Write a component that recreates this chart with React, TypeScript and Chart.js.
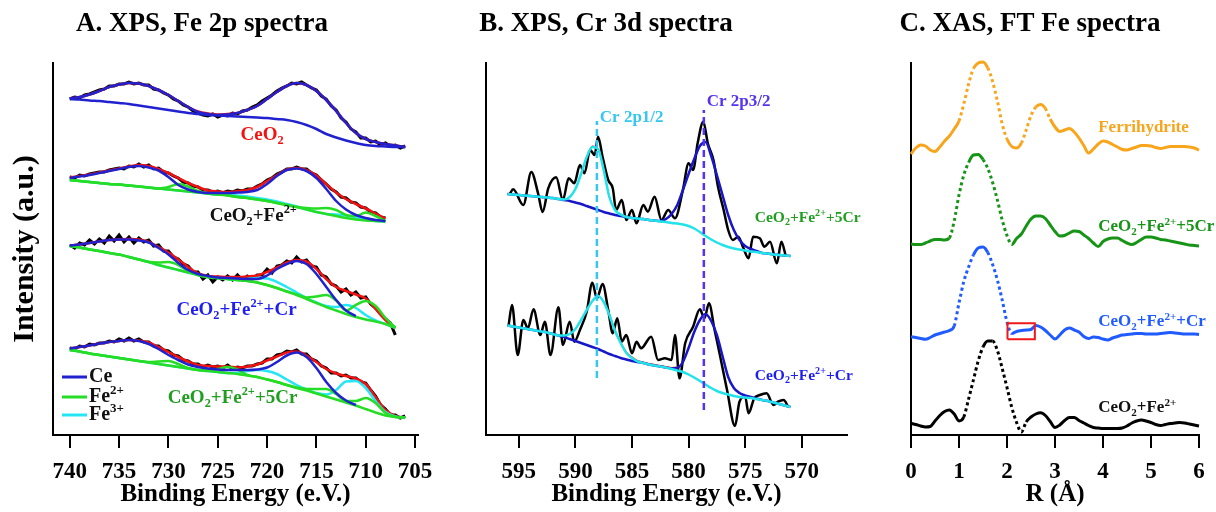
import React, { useEffect, useRef } from 'react';
import { Chart, registerables } from 'chart.js';

Chart.register(...registerables);

const W = 1216;
const H = 512;
const AXIS_BOTTOM = 435;
const AXIS_TOP = 63;
const Y_MAX = 372;
const TITLE_Y = 24;
const SERIF = "'Liberation Serif', 'Times New Roman', serif";

// ---------------- Panel A: XPS Fe 2p ----------------
const energyA = [740, 739, 738, 737, 736, 735, 734, 733, 732, 731, 730, 729, 728, 727, 726, 725, 724, 723, 722, 721, 720, 719, 718, 717, 716, 715, 714, 713, 712, 711, 710, 709, 708, 707, 706];
const rawEnergyA = [740, 739.5, 739, 738.5, 738, 737.5, 737, 736.5, 736, 735.5, 735, 734.5, 734, 733.5, 733, 732.5, 732, 731.5, 731, 730.5, 730, 729.5, 729, 728.5, 728, 727.5, 727, 726.5, 726, 725.5, 725, 724.5, 724, 723.5, 723, 722.5, 722, 721.5, 721, 720.5, 720, 719.5, 719, 718.5, 718, 717.5, 717, 716.5, 716, 715.5, 715, 714.5, 714, 713.5, 713, 712.5, 712, 711.5, 711, 710.5, 710, 709.5, 709, 708.5, 708, 707.5, 707, 706.5, 706];

// CeO2
const rawA1 = [336, 338, 337, 340, 341, 343, 345, 346, 349, 349, 351, 351, 353, 351, 352, 350, 350, 346, 345, 342, 340, 336, 334, 330, 328, 324, 322, 320, 319, 321, 318, 320, 319, 322, 321, 324, 325, 328, 330, 334, 337, 340, 344, 347, 349, 352, 351, 353, 350, 347, 345, 339, 336, 329, 325, 317, 313, 306, 303, 297, 297, 293, 294, 290, 292, 289, 290, 287, 289];
const envA1 = [336.5, 338, 340.5, 344, 348, 350.5, 352, 351.5, 349, 345, 340, 334, 328, 323.5, 321.5, 320.5, 321, 322, 325, 329, 336, 343, 349, 352, 350, 344, 335, 324, 312, 302, 296, 293, 291, 289.5, 288];
const ceA1 = [336.5, 338, 340.5, 344, 348, 350.5, 352, 351.5, 349, 345, 340, 334, 328, 323, 321, 320, 320.5, 322, 325, 329, 336, 343, 349, 352, 350, 344, 335, 324, 312, 302, 296, 293, 291, 289.5, 288];
const baseA1 = [336, 335.5, 334.5, 334, 333, 332, 331, 329.5, 328, 326.5, 325, 323.5, 322, 321, 320, 319.5, 319, 318.5, 318, 317.5, 317, 316, 315, 313, 310, 306, 301, 297.5, 294.5, 292, 290, 289, 288.5, 288, 288];

// CeO2 + Fe2+
const rawA2 = [258, 257, 260, 259, 261, 262, 263, 263, 265, 266, 267, 266, 269, 268, 271, 268, 270, 266, 267, 263, 262, 259, 257, 253, 252, 249, 248, 245, 245, 243, 244, 242, 244, 243, 245, 244, 246, 246, 249, 251, 255, 257, 261, 263, 266, 266, 268, 266, 266, 262, 260, 255, 251, 246, 243, 238, 237, 233, 232, 228, 227, 223, 222, 218, 217, null, null, null, null];
const envA2 = [257.5, 259, 260.5, 262.5, 264.5, 266.5, 268.5, 270, 269, 266, 262, 257, 252, 248, 244.5, 243.5, 243, 244, 245, 248, 254, 260, 265.5, 267, 265, 259.5, 251, 242.5, 236, 231, 226.5, 221.5, 216.5, null, null];
const ceA2 = [257, 258.5, 260, 262, 264, 266, 268, 269, 267.5, 264.5, 258, 250, 245.5, 243, 242, 242, 242, 242.5, 243, 245, 251, 259, 265, 266.5, 264, 257, 246, 234, 225.5, 220, 217, 215, 214, null, null];
const baseA2 = [255, 254, 253, 252, 251, 250.5, 249.5, 248.5, 247.5, 246.5, 245.5, 244.5, 243.5, 242.5, 241.5, 240.5, 239.5, 238, 237, 235.5, 234, 232, 230, 228, 225.5, 223, 221, 219, 217, 215.5, 214.5, 214, 213.5, null, null];
const fe2A2 = [255, 254, 253, 252, 251, 250.5, 249.5, 248.5, 247.5, 246.5, 248, 251, 248.5, 244, 241.5, 240.5, 239.5, 238, 237, 235.5, 234, 232, 230, 228, 227, 226.5, 227, 225, 220, 219, 222.5, 219, 214, null, null];
const fe3A2 = [255, 254, 253, 252, 251, 250.5, 249.5, 248.5, 247.5, 246.5, 245.5, 244.5, 243.5, 242.5, 241.5, 240.5, 240.5, 239.5, 238.5, 237, 235.5, 233.5, 231, 228.5, 225.5, 223, 221, 220.5, 219.5, 217.5, 215.5, 214, 213.5, null, null];

// CeO2 + Fe2+ + Cr
const rawA3 = [190, 187, 192, 190, 195, 191, 196, 192, 199, 194, 200, 193, 198, 192, 197, 193, 195, 189, 190, 184, 184, 178, 176, 171, 169, 163, 163, 156, 160, 153, 158, 155, 159, 155, 160, 155, 159, 156, 160, 160, 166, 162, 169, 170, 174, 172, 178, 173, 175, 169, 168, 160, 158, 151, 149, 143, 146, 140, 143, 137, 138, 131, 127, 121, 116, 112, 100, null, null];
const envA3 = [189.5, 190.5, 192, 193.5, 195, 195.5, 196, 195.5, 193, 188, 182.5, 175.5, 168, 161.5, 159, 158.5, 158, 158, 158.5, 159.5, 163, 167.5, 172.5, 175, 173.5, 166, 156, 148, 144, 140.5, 136.5, 126, 115, 106.5, null];
const ceA3 = [189.5, 190.5, 192, 193.5, 195, 195.5, 195.5, 194.5, 192.5, 187, 180.5, 172, 165, 161, 159, 157.5, 157, 156.5, 156, 156, 159.5, 166, 171, 174, 171, 161, 148, 135, 124.5, 119, null, null, null, null, null];
const baseA3 = [189, 187.5, 185.5, 184, 182, 180.5, 178, 175.5, 173, 170, 167.5, 165, 162.5, 160, 158, 157, 156, 155, 154, 152.5, 150, 147, 143.5, 140, 136, 132, 128, 124.5, 121, 118, 115.5, 113.5, 111, 107, null];
const fe2A3 = [189, 187.5, 185.5, 184, 182, 180.5, 178, 175.5, 173, 172.5, 173, 170, 164, 160, 158, 157, 156, 155, 154, 152.5, 150, 147, 143.5, 140.5, 137.5, 138.5, 140, 134.5, 124.5, 130, 134, 129, 117, 107.5, null];
const fe3A3 = [189, 187.5, 185.5, 184, 182, 180.5, 178, 175.5, 173, 170, 167.5, 165, 162.5, 160, 158, 157, 156, 155, 156, 157, 156.5, 153, 148, 142.5, 137, 132.5, 129, 128, 130, 127, 120, 114.5, 111, 107, null];

// CeO2 + Fe2+ + 5Cr
const rawA4 = [87, 86, 89, 88, 91, 90, 92, 92, 94, 93, 96, 94, 97, 94, 96, 93, 93, 89, 89, 85, 84, 80, 79, 75, 74, 71, 71, 68, 70, 68, 69, 67, 70, 66, 68, 67, 69, 69, 71, 72, 76, 76, 80, 81, 84, 83, 85, 81, 81, 76, 74, 69, 67, 62, 62, 59, 60, 57, 57, 53, 52, 45, 39, 30, 26, 20, 20, 17, 19];
const envA4 = [86.5, 88, 89.5, 91.5, 93, 94, 95, 94.5, 92.5, 88, 83, 78, 73.5, 70, 69, 68.5, 68.5, 67.5, 68.5, 70.5, 74.5, 78.5, 82.5, 83.5, 79.5, 73, 66, 61.5, 59, 56.5, 51, 38, 25, 19, 17.5];
const ceA4 = [86.5, 88, 89.5, 91.5, 93, 94, 95, 94, 91, 86, 80, 75, 70.5, 68, 66.5, 65.5, 65, 65, 65, 65.5, 67.5, 73, 79.5, 82.5, 78, 67, 53, 42, 34.5, 30, null, null, null, null, null];
const baseA4 = [85, 83.5, 81.5, 80, 78.5, 77, 75.5, 74, 72.5, 71, 69.5, 68, 66.5, 65, 64, 63, 62, 61, 59.5, 58, 55.5, 53, 50, 47, 44.5, 41.5, 38.5, 35.5, 32.5, 29.5, 26, 22.5, 19.5, 18, 17.5];
const fe2A4 = [85, 83.5, 81.5, 80, 78.5, 77, 75.5, 74, 73, 73.5, 74, 71, 67, 65, 64.5, 66, 68, 65.5, 60, 58, 55.5, 53, 50, 47.5, 46, 46, 46, 41, 34, 34, 37, 32, 22, 18, 17.5];
const fe3A4 = [85, 83.5, 81.5, 80, 78.5, 77, 75.5, 74, 72.5, 71, 69.5, 68, 66.5, 65, 64, 63, 62, 62, 64, 65, 64, 61, 55.5, 50, 45.5, 42, 40.5, 45, 53.5, 54, 47, 34, 23, 18.5, 17.5];

// ---------------- Panel B: XPS Cr 3d ----------------
const energyB = [596, 595.5, 595, 594.5, 594, 593.5, 593, 592.5, 592, 591.5, 591, 590.5, 590, 589.5, 589, 588.5, 588, 587.5, 587, 586.5, 586, 585.5, 585, 584.5, 584, 583.5, 583, 582.5, 582, 581.5, 581, 580.5, 580, 579.5, 579, 578.5, 578, 577.5, 577, 576.5, 576, 575.5, 575, 574.5, 574, 573.5, 573, 572.5, 572, 571.5, 571];

// CeO2 + Fe2+ + 5Cr
const rawEnergyB1 = [595.8, 595.5, 594.6, 593.9, 593.3, 592.9, 592.4, 591.7, 591.1, 590.6, 590.1, 589.6, 589.2, 588.7, 588.3, 588.0, 587.6, 587.1, 586.7, 586.4, 585.9, 585.5, 585.0, 584.6, 584.0, 583.6, 583.0, 582.4, 581.8, 581.2, 580.5, 580.0, 579.6, 579.2, 578.7, 578.3, 577.8, 577.4, 576.9, 576.5, 576.1, 575.6, 575.2, 574.7, 574.3, 573.7, 573.3, 572.8, 572.2, 571.8, 571.4];
const rawB1 = [241, 245.7, 230, 263, 241.7, 223, 246.7, 257.7, 235, 256.7, 251.7, 270, 261.7, 285, 280, 298.3, 278.3, 255, 246.7, 225, 235, 215, 225, 211.7, 230, 223.3, 238.3, 215, 225, 216.7, 245, 271.7, 265, 291.7, 313.3, 291.7, 275, 248.3, 225, 205, 195, 198.3, 188.3, 176.7, 198.3, 196.7, 188.3, 193.3, 171.7, 193.3, 178.3];
const envB1 = [241, 240.5, 240, 239.5, 239, 238.5, 238, 237.5, 237, 236, 235.5, 238, 246, 261, 278, 289, 286, 265, 238, 225, 220.5, 218, 217, 216.5, 216, 215, 214.5, 214, 216, 221, 230, 245, 261, 276, 289, 293, 279, 260, 240, 220, 205, 195, 189, 186, 184, 182, 181.5, 180.5, 180, 179.5, 179];
const p32B1 = [241, 240.5, 240, 239.5, 239, 238.5, 238, 237.5, 237, 236, 235, 234, 232.5, 231, 229, 227, 225, 223, 221.5, 220, 219, 218, 217, 216.5, 216, 215, 214.5, 214, 216, 221, 230, 245, 261, 276, 289, 293, 279, 260, 240, 220, 205, 195, 189, 186, 184, 182, 181.5, 180.5, 180, 179.5, 179];
const p12B1 = [241, 240.5, 240, 239.5, 239, 238.5, 238, 237.5, 237, 236, 235.5, 238, 246, 261, 278, 288, 286, 265, 238, 225, 220.5, 218, 217, 216.5, 216, 215, 214.5, 213.5, 213, 212, 211.5, 210.5, 209, 206.5, 203, 199, 195.5, 192.5, 190, 188, 186.5, 185.5, 184.5, 183.5, 183, 182, 181.5, 180.5, 180, 179.5, 179];

// CeO2 + Fe2+ + Cr
const rawEnergyB2 = [595.9, 595.6, 595.1, 594.6, 594.2, 593.7, 593.1, 592.7, 592.2, 591.5, 591.1, 590.5, 590.1, 589.6, 589.0, 588.5, 588.1, 587.6, 587.1, 586.7, 586.3, 585.9, 585.5, 585.0, 584.6, 584.2, 583.3, 582.7, 582.1, 581.5, 581.2, 580.8, 580.3, 579.6, 579.0, 578.6, 578.2, 577.7, 577.2, 576.6, 575.9, 575.5, 575.0, 574.7, 574.2, 573.7, 573.1, 572.5, 572.1, 571.6, 571.2];
const rawB2 = [110, 130, 80, 115, 106.7, 125.7, 100, 113.3, 80, 127.7, 90, 113.3, 93.3, 105, 123.3, 152.3, 136.7, 151, 125, 101.7, 116.7, 93.3, 100, 81.7, 93.3, 86.7, 98.3, 75, 76.7, 75, 100, 56.7, 91.7, 108.3, 125.7, 116.7, 131.7, 105, 78.3, 45, 9, 33.3, 38.3, 21.7, 36.7, 40, 41.7, 30, 33.3, 35, 28.3];
const envB2 = [109.5, 108.5, 107.5, 106.5, 105.5, 104.5, 103.5, 102.5, 101, 99.5, 99.5, 101, 106, 115, 125, 134, 139, 133.5, 121, 105, 93, 83, 78, 74.5, 73, 71.5, 70.5, 69.5, 68.5, 67.5, 68, 73.5, 87, 103, 115, 121, 114, 100, 79, 58, 47, 42, 39.5, 38, 36.5, 35, 34, 32.5, 31, 29.5, 28];
const p32B2 = [109.5, 108.5, 107.5, 106.5, 105.5, 104.5, 103.5, 102.5, 101, 99.5, 98, 96, 94, 92, 90, 88, 86, 83.5, 81, 79, 77, 75.5, 74, 73, 72, 70.5, 69.5, 68.5, 67.5, 66.5, 67, 73, 87, 103, 115, 121, 114, 100, 79, 58, 47, 42, 39.5, 38, 36.5, 35, 34, 32.5, 31, 29.5, 28];
const p12B2 = [109.5, 108.5, 107.5, 106.5, 105.5, 104.5, 103.5, 102.5, 101, 99.5, 99.5, 101, 106, 115, 125, 134, 139, 133, 120, 104, 92, 82, 77, 73.5, 72, 70.5, 69.5, 68.5, 67.5, 66, 64.5, 63, 60.5, 57.5, 54, 50.5, 47, 44, 42, 40.5, 39, 38, 37.5, 37, 36, 35, 34, 32.5, 31, 29.5, 28];

// reference lines
const cr2p12Energy = 588.1;
const cr2p12Span = [57, 314];
const cr2p32Energy = 578.65;
const cr2p32Span = [25, 325];

// ---------------- Panel C: XAS FT Fe ----------------
const rC = [0, 0.1, 0.2, 0.3, 0.4, 0.5, 0.6, 0.7, 0.8, 0.9, 1, 1.1, 1.2, 1.3, 1.4, 1.5, 1.6, 1.7, 1.8, 1.9, 2, 2.1, 2.2, 2.3, 2.4, 2.5, 2.6, 2.7, 2.8, 2.9, 3, 3.1, 3.2, 3.3, 3.4, 3.5, 3.6, 3.7, 3.8, 3.9, 4, 4.1, 4.2, 4.3, 4.4, 4.5, 4.6, 4.7, 4.8, 4.9, 5, 5.1, 5.2, 5.3, 5.4, 5.5, 5.6, 5.7, 5.8, 5.9, 6];
const ferrihydriteC = [281, 287, 290, 289, 285, 283.5, 288, 294, 299, 306, 314, 331, 351, 366.5, 372, 373, 367, 353.5, 334, 311, 296, 288.5, 287, 292, 305, 319.5, 328, 330.5, 326.5, 316, 308, 303.5, 305, 306.5, 303, 297, 289.5, 282, 286, 291, 294, 293, 290.5, 288, 285.5, 285, 286.5, 288, 289.5, 289.5, 289, 287.5, 286.5, 287.5, 288.5, 288.5, 288.5, 288.5, 288, 287, 285];
const fe5CrC = [191, 190.5, 190.5, 192, 194, 195.5, 195.5, 195, 197, 214, 240, 260, 272.5, 280, 280.5, 275.5, 266.5, 252.5, 235, 215, 199.5, 190.5, 196.5, 201, 209, 216, 219, 219, 216.5, 210, 203.5, 199, 199.5, 202, 204, 203.5, 200, 196.5, 192, 188.5, 193.5, 196, 197, 197, 194.5, 192, 190.5, 192.5, 195.5, 198, 198, 197, 195.5, 195, 194, 193, 192, 191, 190, 189.5, 189];
const feCrC = [98.3, 97.5, 96.5, 95.7, 97.5, 100, 101.5, 103, 104.5, 109, 132, 153.5, 168, 180, 187, 188, 182.5, 170.5, 155, 135, 113, 101.5, 103.5, 104.5, 105, 105.5, 109.5, 108, 104.5, 100, 96, 100, 105, 107, 105, 103, 98.5, 96.5, 98, 97.5, 96, 95, 97, 98.5, 100, 100.5, 101, 101.5, 101.5, 101, 101, 101, 101.5, 102, 102.5, 102, 101.5, 101, 101, 101, 100.5];
const feC = [11.7, 10.5, 9, 8, 8.5, 14, 19.5, 23.5, 25, 21, 14, 18, 36, 55, 74, 88, 94, 94, 84.5, 66.5, 47.5, 27.5, 12.5, 3, 13, 18, 21, 22.3, 19.5, 13.5, 7.5, 10, 14.5, 17.5, 17.5, 14.5, 12, 9.5, 7.5, 7, 6.5, 6.5, 6.5, 6.5, 7, 9, 12, 14, 15, 14, 12.5, 10.5, 9.5, 10.5, 11.5, 12, 12.5, 12, 11, 10, 9];
const boxR = [2.01, 2.58];
const boxY = [95.7, 111.7];

// ---------------- colours ----------------
const A_BLUE = '#2121cf';
const A_RED = '#f21212';
const A_GREEN = '#25dd25';
const A_CYAN = '#26e6f6';
const B_BLUE = '#1717c9';
const B_CYAN = '#22e2ea';
const DASH_CYAN = '#36c6ef';
const DASH_PURPLE = '#5533f0';
const LBL_GREEN = '#1f9e1f';
const LBL_BLUE = '#1e1ef0';
const C_ORANGE = '#f8a51c';
const C_GREEN = '#169416';
const C_BLUE = '#1f5bff';

type Part = { t: string; s?: 'sub' | 'sup' };
const CEO2: Part[] = [{ t: 'CeO' }, { t: '2', s: 'sub' }];
const CEO2_FE: Part[] = [...CEO2, { t: '+Fe' }, { t: '2+', s: 'sup' }];
const CEO2_FE_CR: Part[] = [...CEO2_FE, { t: '+Cr' }];
const CEO2_FE_5CR: Part[] = [...CEO2_FE, { t: '+5Cr' }];

interface Note { x: number; y: number; parts: Part[]; color: string; size: number; align: 'left' | 'center' }

function drawRich(ctx: CanvasRenderingContext2D, parts: Part[], x: number, y: number, size: number, color: string, align: 'left' | 'center') {
  ctx.save();
  ctx.fillStyle = color;
  ctx.textBaseline = 'middle';
  ctx.textAlign = 'left';
  const pieces = parts.map((p) => {
    const fs = p.s ? size * 0.65 : size;
    ctx.font = `bold ${fs}px ${SERIF}`;
    return { p, fs, w: ctx.measureText(p.t).width };
  });
  const total = pieces.reduce((a, b) => a + b.w, 0);
  let cx = align === 'center' ? x - total / 2 : x;
  pieces.forEach(({ p, fs, w }) => {
    ctx.font = `bold ${fs}px ${SERIF}`;
    const dy = p.s === 'sub' ? size * 0.3 : p.s === 'sup' ? -size * 0.3 : 0;
    ctx.fillText(p.t, cx, y + dy);
    cx += w;
  });
  ctx.restore();
}

function decorPlugin(title: string, titleX: number, notes: Note[], legend: boolean) {
  return {
    id: 'decor',
    afterDraw(chart: any) {
      const ctx = chart.ctx as CanvasRenderingContext2D;
      const xs = chart.scales.x;
      const ys = chart.scales.y;
      drawRich(ctx, [{ t: title }], titleX, TITLE_Y, 27, '#000', 'center');
      notes.forEach((n) => drawRich(ctx, n.parts, xs.getPixelForValue(n.x), ys.getPixelForValue(n.y), n.size, n.color, n.align));
      if (legend) {
        const left = chart.chartArea.left;
        const items: { parts: Part[]; color: string; y: number }[] = [
          { parts: [{ t: 'Ce' }], color: A_BLUE, y: 377 },
          { parts: [{ t: 'Fe' }, { t: '2+', s: 'sup' }], color: A_GREEN, y: 397 },
          { parts: [{ t: 'Fe' }, { t: '3+', s: 'sup' }], color: A_CYAN, y: 415 },
        ];
        items.forEach((it) => {
          ctx.save();
          ctx.strokeStyle = it.color;
          ctx.lineWidth = 3;
          ctx.beginPath();
          ctx.moveTo(left + 9, it.y);
          ctx.lineTo(left + 34, it.y);
          ctx.stroke();
          ctx.restore();
          drawRich(ctx, it.parts, left + 36, it.y, 20, '#111', 'left');
        });
      }
    },
  };
}

const pts = (xs: number[], ys: (number | null)[]) => xs.map((x, i) => ({ x, y: ys[i] }));

function ds(data: any[], color: string, width: number, order: number, extra: any = {}) {
  return {
    data,
    borderColor: color,
    backgroundColor: color,
    borderWidth: width,
    pointRadius: 0,
    fill: false,
    order,
    clip: 8,
    cubicInterpolationMode: 'monotone',
    ...extra,
  };
}

function xScale(min: number, max: number, reverse: boolean, step: number, title: string) {
  return {
    type: 'linear',
    min,
    max,
    reverse,
    position: 'bottom',
    afterFit: (s: any) => { s.height = H - AXIS_BOTTOM; },
    grid: { display: true, drawOnChartArea: false, drawTicks: true, tickLength: 13, color: '#000', lineWidth: 2 },
    border: { display: true, color: '#000', width: 2 },
    ticks: { stepSize: step, includeBounds: false, autoSkip: false, maxRotation: 0, color: '#000', padding: 10, font: { family: SERIF, size: 23, weight: 'bold' } },
    title: { display: true, text: title, color: '#000', font: { family: SERIF, size: 25, weight: 'bold' }, padding: { top: 0, bottom: 2 } },
  };
}

function yScale(width: number, title?: string) {
  return {
    type: 'linear',
    min: 0,
    max: Y_MAX,
    position: 'left',
    afterFit: (s: any) => { s.width = width; },
    grid: { display: false },
    ticks: { display: false },
    border: { display: true, color: '#000', width: 2 },
    title: title
      ? { display: true, text: title, color: '#000', font: { family: SERIF, size: 30, weight: 'bold' }, padding: { top: 7, bottom: 0 } }
      : { display: false },
  };
}

function baseOptions(right: number, xs: any, ys: any) {
  return {
    responsive: false,
    animation: false,
    devicePixelRatio: 1,
    events: [],
    layout: { padding: { left: 0, right: W - right, top: AXIS_TOP, bottom: 0 } },
    plugins: { legend: { display: false }, title: { display: false }, tooltip: { enabled: false } },
    scales: { x: xs, y: ys },
  };
}

function configA(): any {
  const e = energyA;
  const r = rawEnergyA;
  const raw = { tension: 0, cubicInterpolationMode: 'default' };
  const datasets = [
    ds(pts(r, rawA1), '#000', 3, 10, raw),
    ds(pts(e, envA1), A_RED, 2.5, 8),
    ds(pts(e, baseA1), A_BLUE, 2.5, 3),
    ds(pts(e, ceA1), A_BLUE, 2.5, 3),

    ds(pts(r, rawA2), '#000', 3, 10, raw),
    ds(pts(e, envA2), A_RED, 2.5, 8),
    ds(pts(e, fe3A2), A_CYAN, 2.5, 6),
    ds(pts(e, baseA2), A_GREEN, 2.5, 5),
    ds(pts(e, fe2A2), A_GREEN, 2.5, 4),
    ds(pts(e, ceA2), A_BLUE, 2.5, 3),

    ds(pts(r, rawA3), '#000', 3, 10, raw),
    ds(pts(e, envA3), A_RED, 2.5, 8),
    ds(pts(e, fe3A3), A_CYAN, 2.5, 6),
    ds(pts(e, baseA3), A_GREEN, 2.5, 5),
    ds(pts(e, fe2A3), A_GREEN, 2.5, 4),
    ds(pts(e, ceA3), A_BLUE, 2.5, 3),

    ds(pts(r, rawA4), '#000', 3, 10, raw),
    ds(pts(e, envA4), A_RED, 2.5, 8),
    ds(pts(e, fe3A4), A_CYAN, 2.5, 6),
    ds(pts(e, baseA4), A_GREEN, 2.5, 5),
    ds(pts(e, fe2A4), A_GREEN, 2.5, 4),
    ds(pts(e, ceA4), A_BLUE, 2.5, 3),
  ];
  const notes: Note[] = [
    { x: 720.5, y: 300, parts: CEO2, color: A_RED, size: 19, align: 'center' },
    { x: 721.4, y: 219, parts: CEO2_FE, color: '#111', size: 19, align: 'center' },
    { x: 723.1, y: 125, parts: CEO2_FE_CR, color: LBL_BLUE, size: 19, align: 'center' },
    { x: 723.5, y: 37, parts: CEO2_FE_5CR, color: LBL_GREEN, size: 19, align: 'center' },
  ];
  return {
    type: 'line',
    data: { datasets },
    options: baseOptions(418, xScale(704.7, 741.7, true, 5, 'Binding Energy (e.V.)'), yScale(53, 'Intensity (a.u.)')),
    plugins: [decorPlugin('A. XPS, Fe 2p spectra', 202, notes, true)],
  };
}

function configB(): any {
  const e = energyB;
  const dash = { borderDash: [7, 4], tension: 0, cubicInterpolationMode: 'default' };
  const datasets = [
    ds(pts(rawEnergyB1, rawB1), '#000', 2.5, 10),
    ds(pts(e, envB1), '#ff0000', 1.2, 8),
    ds(pts(e, p32B1), B_BLUE, 2.5, 6),
    ds(pts(e, p12B1), B_CYAN, 2.5, 5),

    ds(pts(rawEnergyB2, rawB2), '#000', 2.5, 10),
    ds(pts(e, envB2), '#ff0000', 1.2, 8),
    ds(pts(e, p32B2), B_BLUE, 2.5, 6),
    ds(pts(e, p12B2), B_CYAN, 2.5, 5),

    ds(pts([cr2p12Energy, cr2p12Energy], cr2p12Span), DASH_CYAN, 2.5, 1, dash),
    ds(pts([cr2p32Energy, cr2p32Energy], cr2p32Span), DASH_PURPLE, 2.5, 1, dash),
  ];
  const notes: Note[] = [
    { x: 587.84, y: 317, parts: [{ t: 'Cr 2p1/2' }], color: DASH_CYAN, size: 17, align: 'left' },
    { x: 578.4, y: 333, parts: [{ t: 'Cr 2p3/2' }], color: DASH_PURPLE, size: 17, align: 'left' },
    { x: 574.15, y: 217, parts: CEO2_FE_5CR, color: LBL_GREEN, size: 15.5, align: 'left' },
    { x: 574.15, y: 59, parts: CEO2_FE_CR, color: LBL_BLUE, size: 15.5, align: 'left' },
  ];
  return {
    type: 'line',
    data: { datasets },
    options: baseOptions(847, xScale(566.0, 597.9, true, 5, 'Binding Energy (e.V.)'), yScale(486)),
    plugins: [decorPlugin('B. XPS, Cr 3d spectra', 606, notes, false)],
  };
}

function configC(): any {
  const steep = {
    segment: {
      borderDash: (ctx: any) => {
        const dx = Math.abs(ctx.p1.x - ctx.p0.x);
        const dy = Math.abs(ctx.p1.y - ctx.p0.y);
        return dy > 1.7 * dx ? [3, 3] : undefined;
      },
    },
  };
  const box = pts([boxR[0], boxR[1], boxR[1], boxR[0], boxR[0]], [boxY[0], boxY[0], boxY[1], boxY[1], boxY[0]]);
  const datasets = [
    ds(pts(rC, ferrihydriteC), C_ORANGE, 3, 5, steep),
    ds(pts(rC, fe5CrC), C_GREEN, 3, 5, steep),
    ds(pts(rC, feCrC), C_BLUE, 3, 5, steep),
    ds(pts(rC, feC), '#000', 3, 5, steep),
    ds(box, '#f01818', 2, 1, { tension: 0, cubicInterpolationMode: 'default' }),
  ];
  const notes: Note[] = [
    { x: 3.9, y: 307, parts: [{ t: 'Ferrihydrite' }], color: C_ORANGE, size: 17, align: 'left' },
    { x: 3.9, y: 208, parts: CEO2_FE_5CR, color: C_GREEN, size: 17, align: 'left' },
    { x: 3.9, y: 113, parts: CEO2_FE_CR, color: C_BLUE, size: 17, align: 'left' },
    { x: 3.9, y: 27, parts: CEO2_FE, color: '#111', size: 17, align: 'left' },
  ];
  return {
    type: 'line',
    data: { datasets },
    options: baseOptions(1199, xScale(0, 6, false, 1, 'R (Å)'), yScale(911)),
    plugins: [decorPlugin('C. XAS, FT Fe spectra', 1030, notes, false)],
  };
}

export default function App() {
  const refA = useRef<HTMLCanvasElement>(null);
  const refB = useRef<HTMLCanvasElement>(null);
  const refC = useRef<HTMLCanvasElement>(null);

  useEffect(() => {
    const charts: Chart[] = [];
    if (refA.current) charts.push(new Chart(refA.current, configA()));
    if (refB.current) charts.push(new Chart(refB.current, configB()));
    if (refC.current) charts.push(new Chart(refC.current, configC()));
    return () => charts.forEach((c) => c.destroy());
  }, []);

  const cs: React.CSSProperties = { position: 'absolute', left: 0, top: 0, width: W, height: H };
  return (
    <div style={{ position: 'absolute', left: 0, top: 0, width: W, height: H, background: '#fff', overflow: 'hidden' }}>
      <canvas ref={refA} width={W} height={H} style={cs} />
      <canvas ref={refB} width={W} height={H} style={cs} />
      <canvas ref={refC} width={W} height={H} style={cs} />
    </div>
  );
}
